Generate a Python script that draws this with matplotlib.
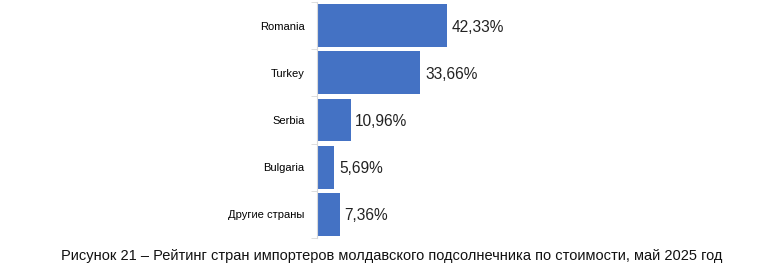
import numpy as np
import matplotlib.pyplot as plt

countries = ['Romania', 'Turkey', 'Serbia', 'Bulgaria', 'Другие страны']
shares = [42.33, 33.66, 10.96, 5.69, 7.36]
labels = ['42,33%', '33,66%', '10,96%', '5,69%', '7,36%']
caption = 'Рисунок 21 – Рейтинг стран импортеров молдавского подсолнечника по стоимости, май 2025 год'

plt.rcParams['font.family'] = ['Liberation Sans', 'DejaVu Sans']

fig = plt.figure(figsize=(7.84, 2.66), dpi=100)
ax = fig.add_axes([317 / 784, 28 / 266, 190 / 784, 236 / 266])

y = np.arange(len(countries))
ax.barh(y, shares, height=0.91, color='#4472C4')
for yi, v, lab in zip(y, shares, labels):
    ax.text(v + 1.5, yi + 0.03, lab, va='center', ha='left', fontsize=11.2, color='#222222')

ax.set_xlim(0, 190 / 3.07)
ax.set_ylim(len(countries) - 0.5, -0.5)
ax.set_yticks(y)
ax.set_yticklabels(countries, fontsize=8)
ax.tick_params(axis='y', which='major', length=0, pad=9)
ax.set_yticks(np.arange(-0.5, len(countries), 1), minor=True)
ax.tick_params(axis='y', which='minor', length=4, color='#d9d9d9')
ax.set_xticks([])
for s in ['top', 'right', 'bottom']:
    ax.spines[s].set_visible(False)
ax.spines['left'].set_color('#d9d9d9')

fig.text(392 / 784, 10 / 266, caption, ha='center', va='center', fontsize=10.5, color='#111111')

fig.savefig('out.png', dpi=100)
